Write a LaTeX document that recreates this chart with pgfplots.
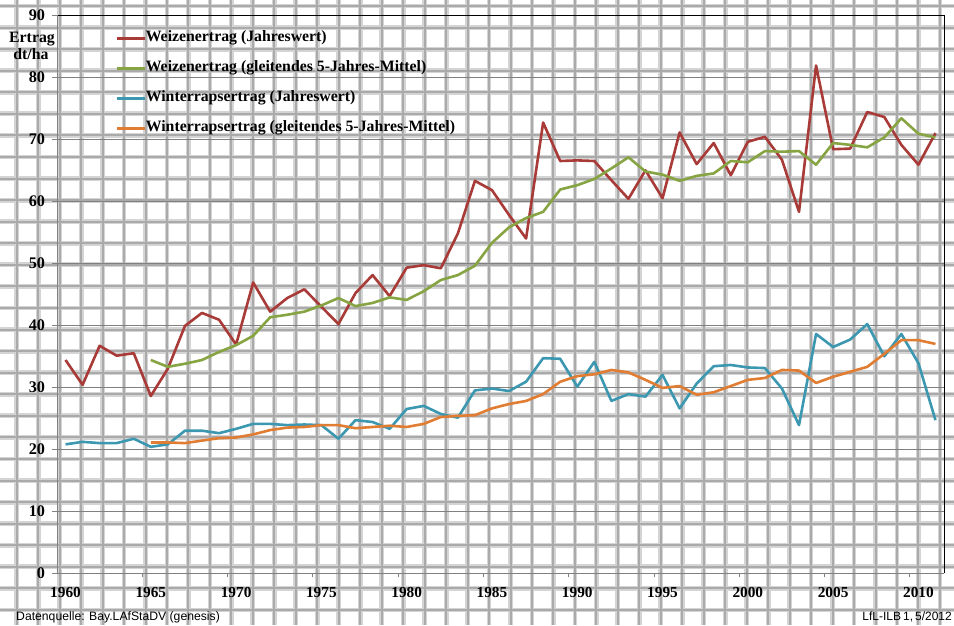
\documentclass[border=0pt]{standalone}
\usepackage{fontspec}
\setmainfont{Liberation Serif}
\setsansfont{Liberation Sans}
\usepackage{pgfplots}
\usepackage{pgfplotstable}
\pgfplotsset{compat=1.18}
\definecolor{wred}{RGB}{168,58,56}
\definecolor{wgreen}{RGB}{134,164,66}
\definecolor{rblue}{RGB}{60,152,176}
\definecolor{rorange}{RGB}{225,125,50}
\definecolor{halo}{RGB}{212,212,212}
\definecolor{core}{RGB}{170,170,170}
\definecolor{majgrid}{RGB}{128,128,128}
\newcommand{\lf}{\bfseries\fontsize{15.8}{18}\selectfont}
\newcommand{\xf}{\bfseries\fontsize{15.3}{18}\selectfont}
\newcommand{\yf}{\bfseries\fontsize{16.2}{18}\selectfont}

\pgfplotstableread{
year val
1960 34.4
1961 30.4
1962 36.7
1963 35.1
1964 35.5
1965 28.6
1966 33.0
1967 39.9
1968 42.0
1969 40.9
1970 36.9
1971 46.9
1972 42.2
1973 44.4
1974 45.8
1975 43.0
1976 40.2
1977 45.2
1978 48.1
1979 44.7
1980 49.3
1981 49.7
1982 49.2
1983 54.8
1984 63.3
1985 61.8
1986 57.8
1987 54.0
1988 72.7
1989 66.5
1990 66.6
1991 66.5
1992 63.4
1993 60.4
1994 65.0
1995 60.5
1996 71.1
1997 66.0
1998 69.4
1999 64.2
2000 69.6
2001 70.4
2002 66.7
2003 58.3
2004 81.9
2005 68.4
2006 68.5
2007 74.4
2008 73.6
2009 69.1
2010 65.9
2011 71.0
}\weizenjahr

\pgfplotstableread{
year val
1965 34.4
1966 33.3
1967 33.8
1968 34.4
1969 35.7
1970 36.8
1971 38.3
1972 41.3
1973 41.7
1974 42.2
1975 43.2
1976 44.4
1977 43.1
1978 43.6
1979 44.5
1980 44.1
1981 45.5
1982 47.3
1983 48.1
1984 49.6
1985 53.3
1986 55.8
1987 57.3
1988 58.3
1989 61.9
1990 62.6
1991 63.6
1992 65.3
1993 67.1
1994 64.8
1995 64.3
1996 63.3
1997 64.1
1998 64.5
1999 66.5
2000 66.3
2001 68.1
2002 68.0
2003 68.1
2004 65.9
2005 69.4
2006 69.1
2007 68.7
2008 70.3
2009 73.4
2010 70.9
2011 70.3
}\weizenmittel

\pgfplotstableread{
year val
1960 20.8
1961 21.2
1962 21.0
1963 21.0
1964 21.7
1965 20.4
1966 20.8
1967 23.0
1968 23.0
1969 22.6
1970 23.3
1971 24.1
1972 24.1
1973 23.9
1974 24.0
1975 23.9
1976 21.7
1977 24.7
1978 24.4
1979 23.3
1980 26.5
1981 27.0
1982 25.7
1983 25.1
1984 29.5
1985 29.8
1986 29.4
1987 30.9
1988 34.7
1989 34.6
1990 30.1
1991 34.1
1992 27.8
1993 28.9
1994 28.5
1995 32.0
1996 26.6
1997 30.6
1998 33.4
1999 33.6
2000 33.2
2001 33.1
2002 29.8
2003 23.9
2004 38.6
2005 36.5
2006 37.7
2007 40.2
2008 35.0
2009 38.6
2010 33.9
2011 24.7
}\rapsjahr

\pgfplotstableread{
year val
1965 21.1
1966 21.1
1967 21.0
1968 21.4
1969 21.8
1970 21.9
1971 22.4
1972 23.1
1973 23.5
1974 23.6
1975 23.9
1976 23.9
1977 23.4
1978 23.6
1979 23.8
1980 23.6
1981 24.1
1982 25.2
1983 25.4
1984 25.5
1985 26.6
1986 27.3
1987 27.8
1988 28.9
1989 30.9
1990 31.8
1991 32.1
1992 32.8
1993 32.4
1994 31.2
1995 29.9
1996 30.2
1997 28.8
1998 29.2
1999 30.2
2000 31.2
2001 31.5
2002 32.8
2003 32.7
2004 30.7
2005 31.7
2006 32.5
2007 33.3
2008 35.4
2009 37.6
2010 37.6
2011 37.0
}\rapsmittel

\begin{document}
\begin{tikzpicture}
\useasboundingbox (0pt,0pt) rectangle (954pt,625pt);
\fill[white] (0pt,0pt) rectangle (954pt,625pt);
% background graph-paper texture
\foreach \i in {0,...,43} {\draw[halo, line width=4.8pt] ({16.7pt+\i*21.47pt},0pt) -- ({16.7pt+\i*21.47pt},625pt);}
\foreach \j in {0,...,28} {\draw[halo, line width=4.8pt] (0pt,{619pt-\j*21.57pt}) -- (954pt,{619pt-\j*21.57pt});}
\foreach \i in {0,...,43} {\draw[core, line width=2pt] ({16.7pt+\i*21.47pt},0pt) -- ({16.7pt+\i*21.47pt},625pt);}
\foreach \j in {0,...,28} {\draw[core, line width=2pt] (0pt,{619pt-\j*21.57pt}) -- (954pt,{619pt-\j*21.57pt});}

\begin{axis}[
  at={(57pt,51.7pt)}, anchor=south west,
  scale only axis, width=887pt, height=558pt,
  xmin=1959.5, xmax=2011.5, ymin=0, ymax=90,
  axis line style={draw=none},
  xtick={1960,1965,...,2010},
  minor xtick={1964.5,1969.5,1974.5,1979.5,1984.5,1989.5,1994.5,1999.5,2004.5,2009.5},
  ytick={0,10,...,90},
  xtick pos=lower, ytick pos=left,
  tick align=outside,
  major tick length=5.5pt, minor tick length=4pt,
  major x tick style={draw=none},
  minor tick style={majgrid, line width=0.8pt},
  major y tick style={majgrid, line width=0.8pt},
  ymajorgrids, major grid style={majgrid, line width=0.8pt},
  /pgf/number format/assume math mode=true,
  /pgf/number format/set thousands separator={},
  xticklabel style={font=\xf, yshift=-5pt},
  yticklabel style={font=\yf, xshift=-3pt},
  legend style={at={(0.0654,0.9724)}, anchor=north west, draw=none, fill=none,
    inner sep=0pt, row sep=15pt, column sep=0pt, font=\lf,
    nodes={inner sep=0pt, text height=11pt, text depth=4pt}},
  legend cell align=left,
  legend image code/.code={\draw[#1] (0pt,0pt) -- (28pt,0pt);},
  every axis plot/.append style={line width=2.6pt, line join=round, mark=none},
]
\addplot[wred] table[x=year,y=val] {\weizenjahr};
\addlegendentry{Weizenertrag (Jahreswert)}
\addplot[wgreen] table[x=year,y=val] {\weizenmittel};
\addlegendentry{Weizenertrag (gleitendes 5-Jahres-Mittel)}
\addplot[rblue] table[x=year,y=val] {\rapsjahr};
\addlegendentry{Winterrapsertrag (Jahreswert)}
\addplot[rorange] table[x=year,y=val] {\rapsmittel};
\addlegendentry{Winterrapsertrag (gleitendes 5-Jahres-Mittel)}
\end{axis}
% axis frame
\draw[black, line width=0.9pt] (57pt,609.7pt) -- (944.1pt,609.7pt) -- (944.1pt,51.7pt);
\draw[majgrid, line width=0.9pt] (57pt,609.7pt) -- (57pt,51.7pt) -- (944.1pt,51.7pt);
% texts
\node[anchor=base, font=\lf, inner sep=0pt] at (32pt,582pt) {Ertrag};
\node[anchor=base, font=\lf, inner sep=0pt] at (31pt,565pt) {dt/ha};
\node[anchor=west, font=\sffamily\fontsize{12.2}{13}\selectfont, inner sep=0pt] at (16pt,8pt) {Datenquelle: Bay.LAfStaDV (genesis)};
\node[anchor=east, font=\sffamily\fontsize{12}{13}\selectfont, inner sep=0pt] at (952pt,8pt) {LfL-ILB\,1,\,5/2012};
\end{tikzpicture}
\end{document}
